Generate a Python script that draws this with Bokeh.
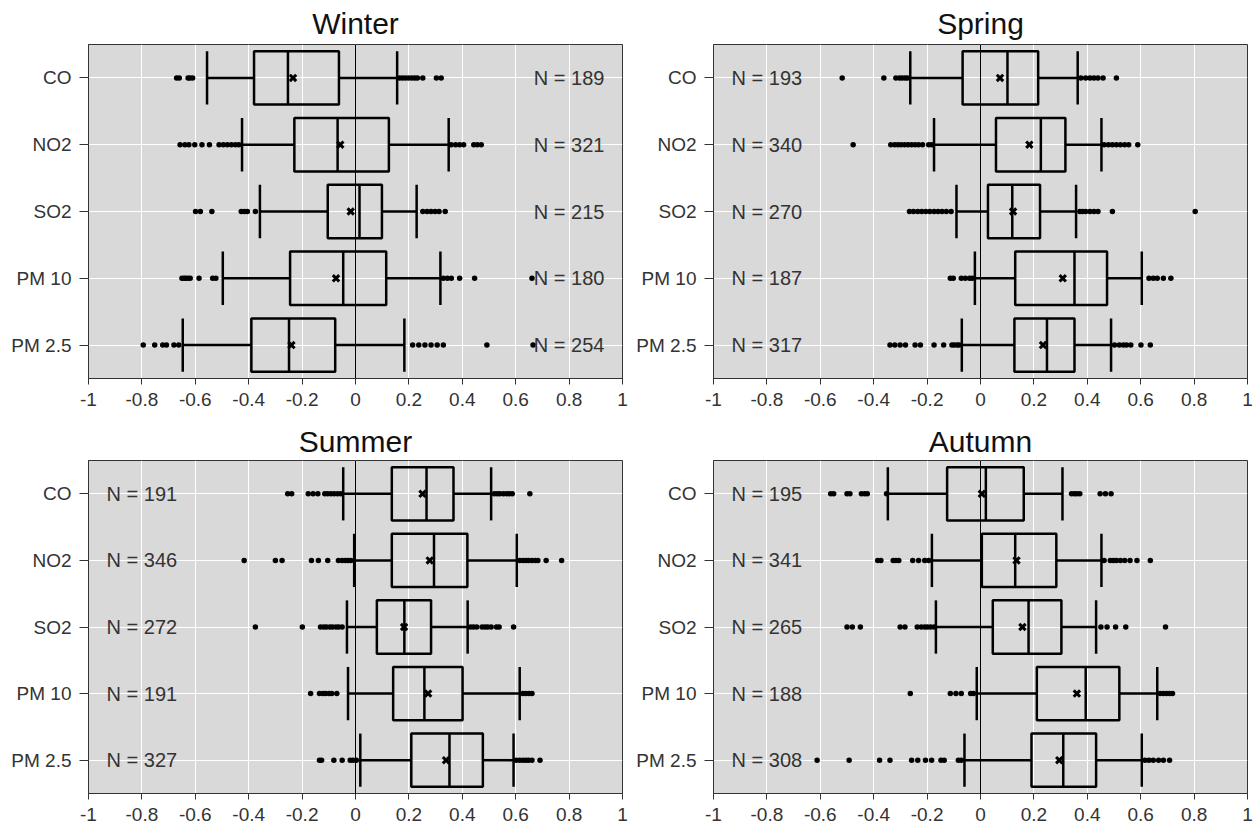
from bokeh.plotting import figure
from bokeh.layouts import gridplot
from bokeh.models import Range1d, FixedTicker, NumeralTickFormatter, Span
from bokeh.embed import file_html
from bokeh.resources import INLINE
from bokeh.core.properties import value

FONT = "Liberation Sans"

pollutants = ["CO", "NO2", "SO2", "PM 10", "PM 2.5"]
x_ticks = [-1, -0.8, -0.6, -0.4, -0.2, 0, 0.2, 0.4, 0.6, 0.8, 1]

# ---- Winter ----
winter_lo = [-0.556, -0.425, -0.358, -0.497, -0.647]
winter_q1 = [-0.380, -0.229, -0.104, -0.245, -0.390]
winter_med = [-0.253, -0.067, 0.015, -0.046, -0.249]
winter_q3 = [-0.062, 0.125, 0.099, 0.115, -0.076]
winter_hi = [0.156, 0.349, 0.229, 0.318, 0.183]
winter_mean = [-0.234, -0.057, -0.018, -0.073, -0.240]
winter_n = [189, 321, 215, 180, 254]
winter_out = [
    [-0.67, -0.66, -0.627, -0.62, -0.61, 0.165, 0.176, 0.187, 0.199, 0.211, 0.222, 0.232, 0.252, 0.303, 0.321],
    [-0.657, -0.639, -0.624, -0.602, -0.575, -0.547, -0.511, -0.495, -0.480, -0.465, -0.450, -0.437,
     0.358, 0.375, 0.390, 0.405, 0.443, 0.456, 0.471],
    [-0.599, -0.581, -0.538, -0.428, -0.416, -0.405, -0.375, 0.252, 0.268, 0.283, 0.298, 0.313, 0.336],
    [-0.650, -0.642, -0.635, -0.627, -0.619, -0.586, -0.535, -0.523, 0.329, 0.344, 0.359, 0.390, 0.446, 0.661],
    [-0.795, -0.752, -0.722, -0.708, -0.680, -0.662, 0.214, 0.237, 0.260, 0.283, 0.306, 0.329, 0.492, 0.665],
]

# ---- Spring ----
spring_lo = [-0.263, -0.174, -0.090, -0.021, -0.070]
spring_q1 = [-0.067, 0.058, 0.028, 0.130, 0.127]
spring_med = [0.101, 0.226, 0.119, 0.352, 0.249]
spring_q3 = [0.216, 0.318, 0.223, 0.474, 0.352]
spring_hi = [0.364, 0.453, 0.358, 0.604, 0.489]
spring_mean = [0.073, 0.183, 0.122, 0.308, 0.234]
spring_n = [193, 340, 270, 187, 317]
spring_out = [
    [-0.518, -0.362, -0.317, -0.304, -0.294, -0.283, -0.274, 0.376, 0.394, 0.410, 0.425, 0.440, 0.459, 0.509],
    [-0.477, -0.336, -0.321, -0.309, -0.297, -0.284, -0.271, -0.258, -0.245, -0.232, -0.217, -0.194, -0.183,
     0.463, 0.479, 0.494, 0.509, 0.524, 0.540, 0.555, 0.589],
    [-0.266, -0.251, -0.235, -0.220, -0.205, -0.190, -0.174, -0.159, -0.144, -0.128, -0.110,
     0.372, 0.382, 0.394, 0.410, 0.425, 0.440, 0.494, 0.804],
    [-0.113, -0.102, -0.072, -0.057, -0.041, -0.031, 0.631, 0.647, 0.662, 0.685, 0.713],
    [-0.339, -0.321, -0.301, -0.281, -0.245, -0.225, -0.174, -0.138, -0.107, -0.098, -0.087, -0.080,
     0.502, 0.520, 0.535, 0.547, 0.563, 0.601, 0.636],
]

# ---- Summer ----
summer_lo = [-0.046, -0.005, -0.032, -0.028, 0.018]
summer_q1 = [0.136, 0.136, 0.080, 0.141, 0.209]
summer_med = [0.266, 0.294, 0.183, 0.258, 0.352]
summer_q3 = [0.367, 0.419, 0.283, 0.401, 0.477]
summer_hi = [0.508, 0.604, 0.420, 0.615, 0.592]
summer_mean = [0.251, 0.278, 0.182, 0.272, 0.339]
summer_n = [191, 346, 272, 191, 327]
summer_out = [
    [-0.254, -0.239, -0.177, -0.159, -0.141, -0.115, -0.104, -0.092, -0.080, -0.067, -0.055,
     0.520, 0.531, 0.541, 0.554, 0.566, 0.576, 0.587, 0.653],
    [-0.417, -0.300, -0.275, -0.165, -0.139, -0.104, -0.064, -0.050, -0.038, -0.028, -0.017,
     0.615, 0.627, 0.638, 0.648, 0.661, 0.673, 0.683, 0.714, 0.772],
    [-0.375, -0.199, -0.131, -0.119, -0.109, -0.096, -0.086, -0.073, -0.063, -0.050,
     0.431, 0.442, 0.454, 0.474, 0.485, 0.495, 0.508, 0.528, 0.538, 0.592],
    [-0.168, -0.135, -0.122, -0.112, -0.099, -0.089, -0.070, 0.627, 0.638, 0.650, 0.661],
    [-0.135, -0.127, -0.081, -0.050, -0.020, -0.009, 0.003, 0.602, 0.615, 0.627, 0.638, 0.648, 0.661, 0.691],
]

# ---- Autumn ----
autumn_lo = [-0.347, -0.182, -0.167, -0.014, -0.060]
autumn_q1 = [-0.125, 0.005, 0.046, 0.211, 0.191]
autumn_med = [0.020, 0.130, 0.180, 0.394, 0.310]
autumn_q3 = [0.162, 0.284, 0.303, 0.520, 0.433]
autumn_hi = [0.307, 0.453, 0.433, 0.662, 0.604]
autumn_mean = [0.005, 0.135, 0.157, 0.361, 0.295]
autumn_n = [195, 341, 265, 188, 308]
autumn_out = [
    [-0.561, -0.550, -0.500, -0.489, -0.446, -0.434, -0.424, -0.352, 0.341, 0.352, 0.361, 0.372, 0.448, 0.468, 0.489],
    [-0.385, -0.373, -0.327, -0.317, -0.306, -0.254, -0.232, -0.209, -0.194,
     0.463, 0.486, 0.498, 0.509, 0.524, 0.540, 0.560, 0.586, 0.636],
    [-0.500, -0.480, -0.450, -0.301, -0.283, -0.237, -0.222, -0.209, -0.199, -0.187, -0.174,
     0.451, 0.474, 0.506, 0.544, 0.693],
    [-0.263, -0.113, -0.092, -0.072, -0.037, -0.026, 0.673, 0.685, 0.697, 0.708, 0.719],
    [-0.612, -0.492, -0.378, -0.339, -0.258, -0.235, -0.206, -0.183, -0.148, -0.136, -0.083, -0.072,
     0.616, 0.631, 0.647, 0.667, 0.685, 0.708],
]

LINE_W = 2.5


def season_panel(title, lo, q1, med, q3, hi, mean, counts, outliers, n_x,
                 borders, frame_h, title_standoff):
    left, right, top, bottom = borders
    p = figure(
        title=title,
        y_range=list(reversed(pollutants)),
        x_range=Range1d(-1, 1),
        frame_width=534,
        frame_height=frame_h,
        min_border_left=left, min_border_right=right,
        min_border_top=top, min_border_bottom=bottom,
        output_backend="svg", toolbar_location=None,
        background_fill_color="#d9d9d9", border_fill_color="white",
        outline_line_color="#333333", outline_line_width=1,
    )
    p.title.align = "center"
    p.title.text_font = FONT
    p.title.text_font_size = "30px"
    p.title.text_font_style = "normal"
    p.title.text_color = "#111111"
    p.title.standoff = title_standoff

    p.xgrid.ticker = FixedTicker(ticks=x_ticks)
    p.xgrid.grid_line_color = "white"
    p.xgrid.grid_line_width = 1
    p.ygrid.grid_line_color = "white"
    p.ygrid.grid_line_width = 1

    p.xaxis.ticker = FixedTicker(ticks=x_ticks)
    p.xaxis.formatter = NumeralTickFormatter(format="0.[0]")
    for ax, tick_out, standoff in ((p.xaxis, 6, 8), (p.yaxis, 9, 8)):
        ax.axis_line_color = "#333333"
        ax.major_tick_line_color = "#333333"
        ax.major_tick_out = tick_out
        ax.major_tick_in = 0
        ax.minor_tick_line_color = None
        ax.major_label_standoff = standoff
        ax.major_label_text_font = FONT
        ax.major_label_text_font_size = "19px"
        ax.major_label_text_color = "#333333"

    # reference line at zero
    p.add_layout(Span(location=0, dimension="height", line_color="black", line_width=1))

    # whiskers
    p.segment(x0=lo, y0=pollutants, x1=q1, y1=pollutants, line_color="black", line_width=LINE_W)
    p.segment(x0=q3, y0=pollutants, x1=hi, y1=pollutants, line_color="black", line_width=LINE_W)
    p.rect(x=lo, y=pollutants, width=LINE_W, width_units="screen", height=0.8,
           fill_color="black", line_color=None)
    p.rect(x=hi, y=pollutants, width=LINE_W, width_units="screen", height=0.8,
           fill_color="black", line_color=None)

    # boxes and medians
    p.hbar(y=pollutants, left=q1, right=q3, height=0.8,
           fill_color=None, line_color="black", line_width=LINE_W)
    p.rect(x=med, y=pollutants, width=LINE_W, width_units="screen", height=0.8,
           fill_color="black", line_color=None)

    # outliers
    ox, oy = [], []
    for name, vals in zip(pollutants, outliers):
        ox.extend(vals)
        oy.extend([name] * len(vals))
    p.scatter(x=ox, y=oy, marker="circle", size=5.5, fill_color="black", line_color=None)

    # means
    p.scatter(x=mean, y=pollutants, marker="x", size=9, line_color="black", line_width=3)

    # sample sizes
    p.text(x=[n_x] * len(pollutants), y=pollutants, text=[f"N = {c}" for c in counts],
           text_align="center", text_baseline="middle",
           text_font=value(FONT), text_font_size="20px", text_color="#333333")
    return p


p_winter = season_panel("Winter", winter_lo, winter_q1, winter_med, winter_q3, winter_hi,
                        winter_mean, winter_n, winter_out, 0.8,
                        (88, 8, 43, 39), 334, 9)
p_spring = season_panel("Spring", spring_lo, spring_q1, spring_med, spring_q3, spring_hi,
                        spring_mean, spring_n, spring_out, -0.8,
                        (83, 10, 43, 39), 334, 9)
p_summer = season_panel("Summer", summer_lo, summer_q1, summer_med, summer_q3, summer_hi,
                        summer_mean, summer_n, summer_out, -0.8,
                        (88, 8, 43, 36), 333, 6)
p_autumn = season_panel("Autumn", autumn_lo, autumn_q1, autumn_med, autumn_q3, autumn_hi,
                        autumn_mean, autumn_n, autumn_out, -0.8,
                        (83, 10, 43, 36), 333, 6)

layout = gridplot([[p_winter, p_spring], [p_summer, p_autumn]], toolbar_location=None)

with open("out.html", "w") as f:
    f.write(file_html(layout, INLINE))
